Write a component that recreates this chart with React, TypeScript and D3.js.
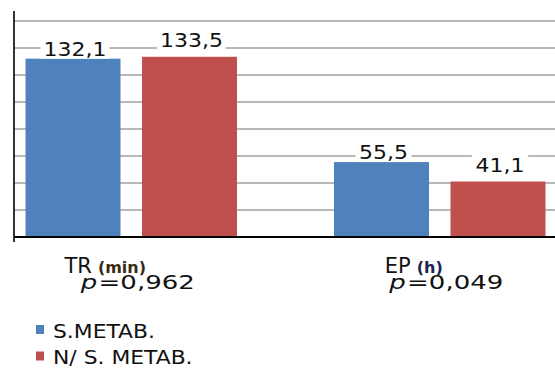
import React from "react";
import * as d3 from "d3";

// Chart data
const categories = ["TR", "EP"];
const categoryUnits = ["(min)", "(h)"];
const pValues = ["0,962", "0,049"];
const seriesNames = ["S.METAB.", "N/ S. METAB."];
const sMetab = [132.1, 55.5];
const nSMetab = [133.5, 41.1];
const yTicks = [0, 20, 40, 60, 80, 100, 120, 140, 160];

const W = 555;
const H = 369;
const FONT = "'DejaVu Sans', Verdana, sans-serif";
const colors = ["#4F81BD", "#C0504D"];
const unitColors = ["#3b2a14", "#1c2452"];
const labelGap = [3, 10];

const fmt = (v: number) => v.toFixed(1).replace(".", ",");

export default function App() {
  const axisX = 14;
  const baseY = 237;
  const y = d3.scaleLinear().domain([0, 160]).range([baseY, 21]);
  const x0 = d3.scaleBand<string>().domain(categories).range([-23, 594]);
  const x1 = d3
    .scaleBand<number>()
    .domain([0, 1])
    .range([0, 211.5])
    .paddingInner(0.1845);
  const groupW = 211.5;
  const groupStart = (c: string) =>
    (x0(c) as number) + (x0.bandwidth() - groupW) / 2;

  const series = [sMetab, nSMetab];

  return (
    <>
      <style>{"body{margin:0}"}</style>
      <svg width={W} height={H} style={{ display: "block", background: "#fff" }}>
        {/* horizontal gridlines */}
        {yTicks
          .filter((t) => t > 0)
          .map((t) => (
            <line
              key={t}
              x1={axisX}
              x2={W}
              y1={y(t)}
              y2={y(t)}
              stroke="#a0a0a0"
              strokeWidth={1.6}
            />
          ))}

        {/* bars */}
        {categories.map((c, ci) =>
          series.map((s, si) => (
            <rect
              key={c + si}
              x={groupStart(c) + (x1(si) as number)}
              y={y(s[ci])}
              width={x1.bandwidth()}
              height={baseY - y(s[ci])}
              fill={colors[si]}
            />
          ))
        )}

        {/* axes */}
        <line x1={axisX} x2={axisX} y1={y(160) - 10} y2={baseY + 5} stroke="#000" strokeWidth={1.6} />
        <line x1={axisX} x2={W} y1={baseY} y2={baseY} stroke="#000" strokeWidth={2} />

        {/* value labels */}
        {categories.map((c, ci) =>
          series.map((s, si) => {
            const cx = groupStart(c) + (x1(si) as number) + x1.bandwidth() / 2 + 2;
            const by = y(s[ci]) - labelGap[si];
            const txt = fmt(s[ci]);
            const w = txt.length * 12.6;
            return (
              <g key={"l" + c + si}>
                <rect x={cx - w / 2 - 3} y={by - 17} width={w + 6} height={20} fill="#fff" />
                <text
                  transform={`translate(${cx},${by}) scale(1.1,1)`}
                  textAnchor="middle"
                  fontFamily={FONT}
                  fontSize={20}
                  fill="#111"
                >
                  {txt}
                </text>
              </g>
            );
          })
        )}

        {/* category labels */}
        {categories.map((c, ci) => {
          const cx = groupStart(c) + groupW / 2;
          return (
            <g key={"c" + c}>
              <text
                x={cx - 26}
                y={272.5}
                textAnchor="middle"
                fontFamily={FONT}
                fontSize={21}
                fill="#111"
              >
                {c}
                <tspan dx={6} fontSize={16} fontWeight="bold" fill={unitColors[ci]}>
                  {categoryUnits[ci]}
                </tspan>
              </text>
              <text
                transform={`translate(${cx + 6.5},289) scale(1.3,1)`}
                textAnchor="middle"
                fontFamily={FONT}
                fontSize={20}
                fill="#111"
              >
                <tspan fontStyle="italic">p</tspan>
                <tspan dx={1}>={pValues[ci]}</tspan>
              </text>
            </g>
          );
        })}

        {/* legend */}
        {seriesNames.map((n, i) => (
          <g key={n} transform={`translate(36,${325 + i * 26.5})`}>
            <rect x={0} y={0} width={8} height={9} fill={colors[i]} />
            <text
              transform={`translate(17,12.5) scale(1.15,1)`}
              fontFamily={FONT}
              fontSize={19}
              fill="#111"
            >
              {n}
            </text>
          </g>
        ))}
      </svg>
    </>
  );
}
